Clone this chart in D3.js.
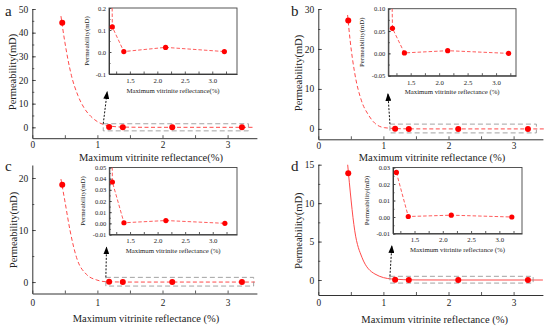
<!DOCTYPE html>
<html>
<head>
<meta charset="utf-8">
<script src="https://cdn.jsdelivr.net/npm/d3@7"></script>
<style>
body{margin:0;background:#fff;}
svg text{font-family:"Liberation Serif","Times New Roman",serif;fill:#222;}
</style>
</head>
<body>
<svg id="chart" width="550" height="329"></svg>
<script>
// maximum vitrinite reflectance of the five samples (%)
const reflectance = [0.46, 1.18, 1.39, 2.15, 3.22];

// permeability (mD) for each sub figure
const permA = [44.2, 0.114, 0.002, 0.021, 0.002];
const permB = [27.1, 0.056, 0.001, 0.006, 0.000];
const permC = [18.7, 0.037, 0.0005, 0.0025, 0.000];
const permD = [13.9, 0.027, 0.0003, 0.0011, 0.000];

// fitted decay curves as [Ro, K]
const fitA = [[0.44, 47], [0.5, 36], [0.6, 22], [0.7, 13.5], [0.8, 8], [0.9, 4.6], [1.0, 2.4],
              [1.1, 1.1], [1.2, 0.5], [1.4, 0.1], [1.8, 0], [3.42, 0]];
const fitB = [[0.45, 28.5], [0.49, 22], [0.56, 13.9], [0.66, 7.2], [0.77, 3.5], [0.87, 1.4],
              [1.02, 0.3], [1.3, 0.03], [1.8, 0], [3.48, 0]];
const fitC = [[0.44, 19.8], [0.5, 15.6], [0.58, 9.9], [0.68, 4.7], [0.83, 1.5], [0.99, 0.4],
              [1.14, 0.06], [1.5, 0], [3.42, 0]];
const fitD = [[0.44, 16], [0.45, 15.1], [0.56, 6.4], [0.67, 2.96], [0.87, 0.78], [1.13, 0.13],
              [1.5, 0.01], [2.0, 0], [3.45, 0]];

// where the inset's dashed line leaves the top of the inset frame
const leadA = [1.175, 0.3];
const leadB = [1.17, 0.15];
const leadC = [1.175, 0.07];

// tick labels
const mainXTicks = [0, 1, 2, 3];
const insetXTicks = [1.5, 2.0, 2.5, 3.0];
const yTicksA = [0, 10, 20, 30, 40, 50];
const yTicksB = [0, 10, 20, 30];
const yTicksC = [0, 10, 20];
const yTicksD = [0, 5, 10, 15];
const insetYTicksA = [-0.1, 0.0, 0.1, 0.2];
const insetYTicksB = [-0.05, 0.00, 0.05, 0.10];
const insetYTicksC = [-0.01, 0.00, 0.01, 0.02, 0.03, 0.04, 0.05];
const insetYTicksD = [-0.01, 0.00, 0.01, 0.02, 0.03];

const panels = [
	{tag: 'a', tagPos: [5, 16], perm: permA, fit: fitA, lead: leadA, solid: false,
	 left: 32.3, yDom: [-4.6, 50], yRange: [138.2, 9], yTicks: yTicksA, yMinor: 5, tickPad: 3.5,
	 xTitle: 'Maximum vitrinite reflectance(%)', xTitlePos: [151, 160.5], yTitlePos: [12.7, 72],
	 box: [1.09, 3.32, -1.5, 1.5], arrow: [[1.09, 1.5], [1.15, 15]],
	 inset: {xRange: [109, 237], yRange: [74, 8], xDom: [1.12, 3.45], yDom: [-0.1, 0.2],
	         yTicks: insetYTicksA, yMinor: 0.05, fmt: '.1f', yTitleX: 86.7,
	         title: 'Maximum vitrinite reflectance(%)'}},
	{tag: 'b', tagPos: [291, 16], perm: permB, fit: fitB, lead: leadB, solid: false,
	 left: 318.3, yDom: [-2.6, 30], yRange: [139.3, 9], yTicks: yTicksB, yMinor: 5, tickPad: 3,
	 xTitle: 'Maximum vitrinite reflectance (%)', xTitlePos: [432, 160.5], yTitlePos: [298.3, 73],
	 box: [1.10, 3.35, -1.0, 1.2], arrow: [[1.10, 1.2], [1.07, 8.8]],
	 inset: {xRange: [388.3, 516], yRange: [75.7, 8.7], xDom: [1.107, 3.35], yDom: [-0.05, 0.10],
	         yTicks: insetYTicksB, yMinor: 0.025, fmt: '.2f', yTitleX: 361.7,
	         title: 'Maximum vitrinite reflectance (%)'}},
	{tag: 'c', tagPos: [5, 171], perm: permC, fit: fitC, lead: leadC, solid: false,
	 left: 32.3, yDom: [-2.2, 22.5], yRange: [293.5, 165], yTicks: yTicksC, yMinor: 5, tickPad: 5.5,
	 xTitle: 'Maximum vitrinite reflectance (%)', xTitlePos: [146, 321.5], yTitlePos: [13.3, 230],
	 box: [1.13, 3.4, -0.77, 0.9], arrow: [[1.13, 0.9], [1.14, 6.7]],
	 inset: {xRange: [109.3, 237], yRange: [234.5, 167.5], xDom: [1.124, 3.44], yDom: [-0.01, 0.05],
	         yTicks: insetYTicksC, yMinor: 0.005, fmt: '.2f', yTitleX: 83,
	         title: 'Maximum vitrinite reflectance (%)'}},
	{tag: 'd', tagPos: [291, 171], perm: permD, fit: fitD, lead: null, solid: true,
	 left: 318.3, yDom: [-1.95, 15], yRange: [295, 164.7], yTicks: yTicksD, yMinor: 2.5, tickPad: 4.5,
	 xTitle: 'Maximum vitrinite reflectance (%)', xTitlePos: [434.7, 322.5], yTitlePos: [298.3, 230.7],
	 box: [1.10, 3.3, -0.4, 0.48], arrow: [[1.10, 0.48], [1.13, 4.45]],
	 inset: {xRange: [393, 522], yRange: [233.5, 167.5], xDom: [1.12, 3.4], yDom: [-0.01, 0.03],
	         yTicks: insetYTicksD, yMinor: 0.005, fmt: '.2f', yTitleX: 366.7,
	         title: 'Maximum vitrinite reflectance (%)'}}
];

const svg = d3.select('#chart');
const defs = svg.append('defs');
defs.append('marker')
	.attr('id', 'arrowHead')
	.attr('viewBox', '0 0 10 10')
	.attr('refX', 9).attr('refY', 5)
	.attr('markerUnits', 'userSpaceOnUse')
	.attr('markerWidth', 8).attr('markerHeight', 6)
	.attr('preserveAspectRatio', 'none')
	.attr('orient', 'auto')
	.append('path')
	.attr('d', 'M0,0L10,5L0,10z')
	.attr('fill', '#000');

function styleAxis(sel, size){
	sel.attr('font-family', null).attr('font-size', null);
	sel.select('.domain').attr('stroke', '#333').attr('stroke-width', 1);
	sel.selectAll('.tick line').attr('stroke', '#333').attr('stroke-width', 0.8);
	sel.selectAll('text').style('font-size', size + 'px').attr('fill', '#222');
}

function minorValues(dom, step){
	const lo = Math.ceil(dom[0] / step - 1e-9), hi = Math.floor(dom[1] / step + 1e-9);
	return d3.range(lo, hi + 1).map(k => +(k * step).toFixed(6));
}

function drawPanel(p){
	const g = svg.append('g').attr('class', 'panel-' + p.tag);
	const x = d3.scaleLinear().domain([0, 3.45]).range([p.left, p.left + 3.45 * 65.1]);
	const y = d3.scaleLinear().domain(p.yDom).range(p.yRange);
	const bottom = p.yRange[0];

	// clip for main plot area
	defs.append('clipPath').attr('id', 'clip-' + p.tag)
		.append('rect')
		.attr('x', x.range()[0]).attr('y', p.yRange[1])
		.attr('width', x.range()[1] - x.range()[0] + 6)
		.attr('height', p.yRange[0] - p.yRange[1]);

	// x axis: minor ticks every 0.5, labels at integers
	g.append('g')
		.attr('transform', 'translate(0,' + bottom + ')')
		.call(d3.axisBottom(x).tickValues(d3.range(0, 3.5, 0.5)).tickSize(-3).tickSizeOuter(0).tickPadding(p.tickPad)
			.tickFormat(d => mainXTicks.includes(d) ? d3.format('d')(d) : ''))
		.call(s => styleAxis(s, 9.3));

	// y axis
	g.append('g')
		.attr('transform', 'translate(' + p.left + ',0)')
		.call(d3.axisLeft(y).tickValues(minorValues(p.yDom, p.yMinor)).tickSize(-2).tickSizeOuter(0).tickFormat(''))
		.call(s => styleAxis(s, 9.5));
	g.append('g')
		.attr('transform', 'translate(' + p.left + ',0)')
		.call(d3.axisLeft(y).tickValues(p.yTicks).tickSize(-3.5).tickSizeOuter(0).tickPadding(4)
			.tickFormat(d3.format('d')))
		.call(s => styleAxis(s, 9.5))
		.select('.domain').remove();

	// titles
	g.append('text')
		.attr('x', p.xTitlePos[0]).attr('y', p.xTitlePos[1])
		.attr('text-anchor', 'middle')
		.style('font-size', '10.5px')
		.text(p.xTitle);
	g.append('text')
		.attr('transform', 'translate(' + p.yTitlePos[0] + ',' + p.yTitlePos[1] + ') rotate(-90)')
		.attr('text-anchor', 'middle').attr('dy', '0.35em')
		.style('font-size', '10.5px')
		.text('Permeability(mD)');
	g.append('text')
		.attr('x', p.tagPos[0]).attr('y', p.tagPos[1])
		.style('font-size', '15px')
		.text(p.tag);

	// fitted curve
	g.append('path')
		.datum(p.fit)
		.attr('clip-path', 'url(#clip-' + p.tag + ')')
		.attr('fill', 'none')
		.attr('stroke', '#ff4a4a')
		.attr('stroke-width', 1)
		.attr('stroke-dasharray', p.solid ? null : '4,2.5')
		.attr('d', d3.line().x(d => x(d[0])).y(d => y(d[1])).curve(d3.curveMonotoneX));

	// zoom box
	g.append('rect')
		.attr('x', x(p.box[0])).attr('y', y(p.box[3]))
		.attr('width', x(p.box[1]) - x(p.box[0]))
		.attr('height', y(p.box[2]) - y(p.box[3]))
		.attr('fill', 'none')
		.attr('stroke', '#8c8c8c')
		.attr('stroke-width', 0.8)
		.attr('stroke-dasharray', '5,3');

	// arrow to inset
	g.append('line')
		.attr('x1', x(p.arrow[0][0])).attr('y1', y(p.arrow[0][1]))
		.attr('x2', x(p.arrow[1][0])).attr('y2', y(p.arrow[1][1]))
		.attr('stroke', '#111')
		.attr('stroke-width', 1)
		.attr('stroke-dasharray', '2,1.5')
		.attr('marker-end', 'url(#arrowHead)');

	// data points
	g.selectAll('circle.main')
		.data(reflectance.map((r, i) => [r, p.perm[i]]))
		.enter().append('circle')
			.attr('class', 'main')
			.attr('cx', d => x(d[0]))
			.attr('cy', d => y(d[1]))
			.attr('r', 3)
			.attr('fill', '#ff0000');

	drawInset(g, p);
}

function drawInset(g, p){
	const s = p.inset;
	const ix = d3.scaleLinear().domain(s.xDom).range(s.xRange);
	const iy = d3.scaleLinear().domain(s.yDom).range(s.yRange);
	const ig = g.append('g').attr('class', 'inset');

	ig.append('rect')
		.attr('x', s.xRange[0]).attr('y', s.yRange[1])
		.attr('width', s.xRange[1] - s.xRange[0])
		.attr('height', s.yRange[0] - s.yRange[1])
		.attr('fill', '#fff');

	defs.append('clipPath').attr('id', 'iclip-' + p.tag)
		.append('rect')
		.attr('x', s.xRange[0]).attr('y', s.yRange[1])
		.attr('width', s.xRange[1] - s.xRange[0])
		.attr('height', s.yRange[0] - s.yRange[1]);

	// x ticks
	ig.append('g')
		.attr('transform', 'translate(0,' + s.yRange[0] + ')')
		.call(d3.axisBottom(ix).tickValues(minorValues(s.xDom, 0.25)).tickSize(-2.5).tickSizeOuter(0).tickPadding(4)
			.tickFormat(d => insetXTicks.includes(d) ? d3.format('.1f')(d) : ''))
		.call(a => styleAxis(a, 6.8));
	// y ticks
	ig.append('g')
		.attr('transform', 'translate(' + s.xRange[0] + ',0)')
		.call(d3.axisLeft(iy).tickValues(minorValues(s.yDom, s.yMinor)).tickSize(-1.5).tickSizeOuter(0).tickFormat(''))
		.call(a => styleAxis(a, 6.5));
	ig.append('g')
		.attr('transform', 'translate(' + s.xRange[0] + ',0)')
		.call(d3.axisLeft(iy).tickValues(s.yTicks).tickSize(-2.5).tickSizeOuter(0).tickPadding(3)
			.tickFormat(d => d3.format(s.fmt)(d).replace('−', '-')))
		.call(a => styleAxis(a, 6.5))
		.select('.domain').remove();

	// frame
	ig.append('rect')
		.attr('x', s.xRange[0]).attr('y', s.yRange[1])
		.attr('width', s.xRange[1] - s.xRange[0])
		.attr('height', s.yRange[0] - s.yRange[1])
		.attr('fill', 'none')
		.attr('stroke', '#444')
		.attr('stroke-width', 0.9);

	ig.append('text')
		.attr('x', (s.xRange[0] + s.xRange[1]) / 2).attr('y', s.yRange[0] + 18.5)
		.attr('text-anchor', 'middle')
		.style('font-size', '6.8px')
		.text(s.title);
	ig.append('text')
		.attr('transform', 'translate(' + s.yTitleX + ',' + (s.yRange[0] + s.yRange[1]) / 2 + ') rotate(-90)')
		.attr('text-anchor', 'middle').attr('dy', '0.35em')
		.style('font-size', '6.8px')
		.text('Permeability(mD)');

	const pts = reflectance.slice(1).map((r, i) => [r, p.perm[i + 1]]);
	const linePts = p.lead ? [p.lead].concat(pts) : pts;
	ig.append('path')
		.datum(linePts)
		.attr('clip-path', 'url(#iclip-' + p.tag + ')')
		.attr('fill', 'none')
		.attr('stroke', '#ff4a4a')
		.attr('stroke-width', 0.9)
		.attr('stroke-dasharray', '3.5,2')
		.attr('d', d3.line().x(d => ix(d[0])).y(d => iy(d[1])));

	ig.selectAll('circle.inset')
		.data(pts)
		.enter().append('circle')
			.attr('class', 'inset')
			.attr('cx', d => ix(d[0]))
			.attr('cy', d => iy(d[1]))
			.attr('r', 2.6)
			.attr('fill', '#ff0000');
}

panels.forEach(drawPanel);
</script>
</body>
</html>
